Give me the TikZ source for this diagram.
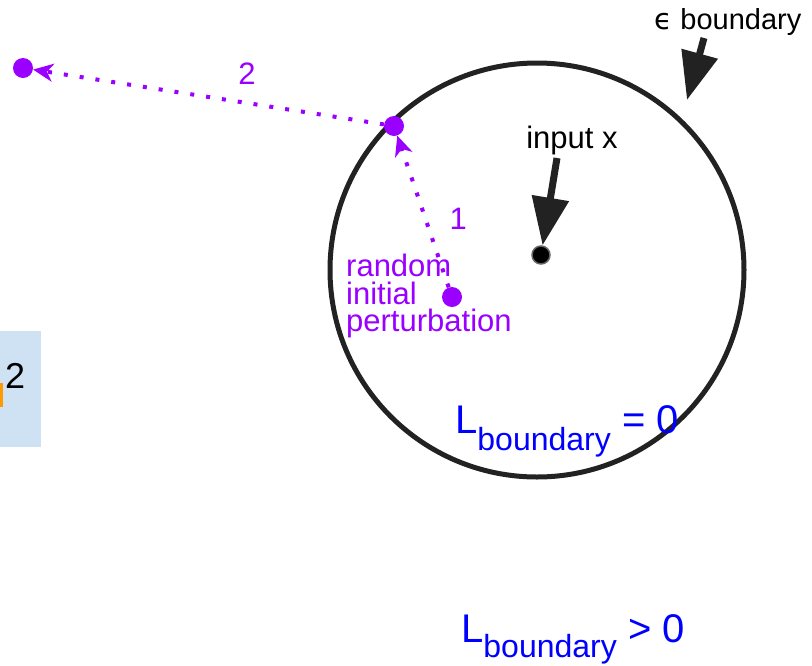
\documentclass[tikz,border=0pt]{standalone}
\usepackage{fontspec}
\setmainfont{Liberation Sans}
\newfontfamily\dejavu{DejaVu Sans}
\usepackage{tikz}
\usetikzlibrary{arrows.meta,positioning}
\definecolor{pert}{RGB}{153,0,255}
\definecolor{trait}{RGB}{34,34,34}
\definecolor{perte}{RGB}{0,0,255}
\definecolor{boite}{RGB}{207,226,243}
\definecolor{orangeb}{RGB}{255,153,0}

\begin{document}
\begin{tikzpicture}[x=1pt,y=-1pt,
    pdot/.style={circle,fill=pert,inner sep=0pt,minimum size=20pt},
    pline/.style={pert,line width=4pt,dash pattern=on 4pt off 12pt,
      -{Stealth[length=20pt,width=18pt,inset=6pt]}},
    bigarrow/.style={trait,line width=7pt,-{Triangle[length=48pt,width=36pt]}},
    lbl/.style={font=\fontsize{31}{34}\selectfont,inner sep=0pt},
    loss/.style={perte,font=\fontsize{40}{44}\selectfont,inner sep=0pt,anchor=base west}]
    % 1 unite = 1 px de l'image ; y vers le bas
    \useasboundingbox (0,0) rectangle (812,665);
    \node[draw=trait,line width=5pt,circle,minimum size=414pt,inner sep=0pt] (boule) at (537,270) {};
    \node[circle,fill=black,draw=black!60,line width=1.5pt,inner sep=0pt,minimum size=18pt] (x) at (541,255) {};
    \node[lbl] (entree) at (572,140) {input x};
    \coordinate (qentree) at (557,158);
    \draw[bigarrow] (qentree) -- (x);
    \node[lbl,font=\fontsize{29}{32}\selectfont] (eps) at (728,22) {{\dejavu ϵ} boundary};
    \coordinate (qeps) at (704,38);
    \coordinate (peps) at (687,100);
    \draw[bigarrow] (qeps) -- (peps);
    \node[pdot] (p0) at (452,297) {};
    \node[pdot] (p1) at (394,126) {};
    \node[pdot] (p2) at (23,68) {};
    \draw[pline] (p0) -- node[lbl,pert,right=22pt,pos=0.45]{1} (p1);
    \draw[pline] (p1) -- node[lbl,pert,above=17pt,pos=0.39]{2} (p2);
    \node[lbl,pert,align=left,anchor=north west,font=\fontsize{31}{27.5}\selectfont] (alea) at (346,254)
      {random\\initial\\perturbation};
    \node[loss] (lnul) at (455,433) {L\raisebox{-17pt}{\fontsize{32}{34}\selectfont boundary} = 0};
    \node[loss] (lpos) at (461,642) {L\raisebox{-15pt}{\fontsize{32}{34}\selectfont boundary} > 0};
    \fill[boite] (0,331) rectangle (41,447);
    \fill[orangeb] (0,383) rectangle (3,407);
    \node[font=\fontsize{36}{38}\selectfont,anchor=base west,inner sep=0pt] (deux) at (5,388) {2};
  \end{tikzpicture}
\end{document}
